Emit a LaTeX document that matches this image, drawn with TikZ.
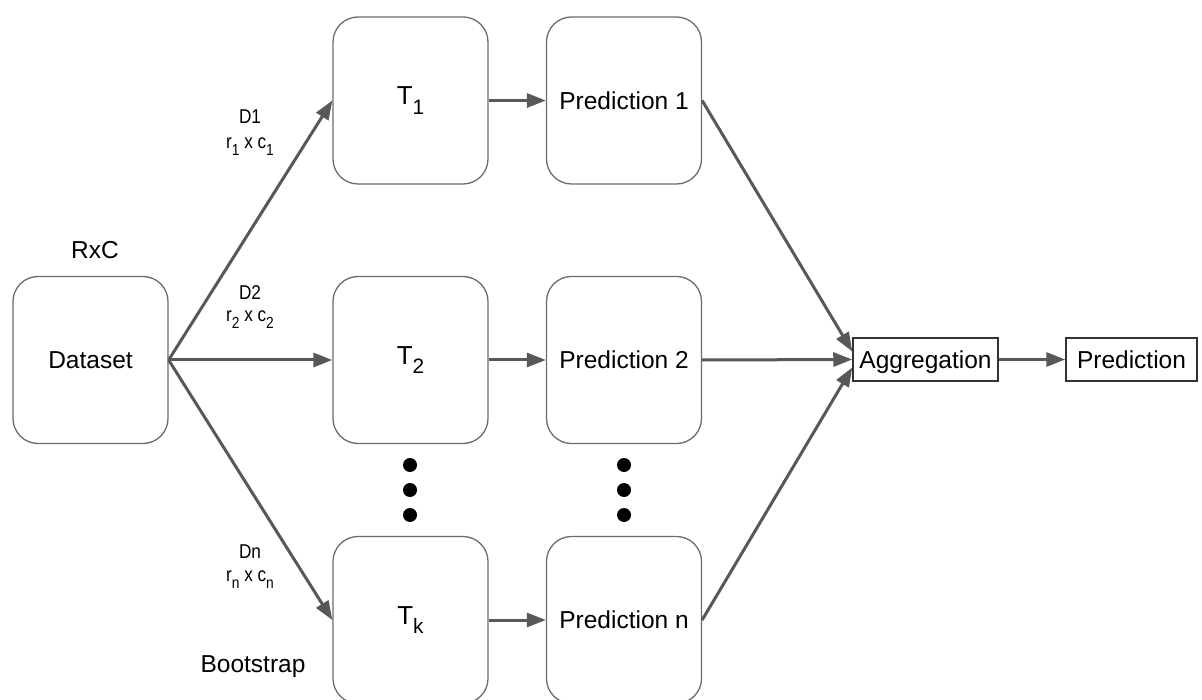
\documentclass[tikz,border=0pt]{standalone}
\usepackage{fontspec}
\setmainfont{Liberation Sans}
\usetikzlibrary{arrows.meta}
\definecolor{boxgray}{HTML}{6B6B6B}
\definecolor{arrgray}{HTML}{585858}
\definecolor{darkbox}{HTML}{333333}
\newcommand{\lsub}[1]{\raisebox{-0.36em}{\scalebox{0.8}{#1}}}
\newcommand{\narrow}[1]{\scalebox{0.86}[1]{#1}}
\begin{document}
\begin{tikzpicture}[x=1pt,y=-1pt,
  rbox/.style={draw=boxgray, line width=1.3pt, rounded corners=25pt,
    minimum width=155pt, minimum height=167pt, inner sep=0pt,
    font=\fontsize{24.5}{29}\selectfont},
  sbox/.style={draw=darkbox, line width=1.5pt, minimum height=43pt,
    inner sep=0pt, text height=17.6pt, text depth=0pt,
    font=\fontsize{24.5}{29}\selectfont},
  arr/.style={draw=arrgray, line width=3pt, -{Triangle[length=19pt,width=14pt]}},
  lbl/.style={font=\fontsize{24.5}{29}\selectfont},
  sml/.style={font=\fontsize{20}{24}\selectfont, align=center},
  tlbl/.style={font=\fontsize{26}{30}\selectfont},
  dot/.style={circle, fill=black, minimum size=14pt, inner sep=0pt}]
\useasboundingbox (0,0) rectangle (1202,700);
\clip (0,0) rectangle (1202,700);
% boxes
\node[rbox] (ds) at (90.5,360) {Dataset};
\node[rbox, tlbl] (t1) at (410.5,100.5) {T\lsub{1}};
\node[rbox, tlbl] (t2) at (410.5,360) {T\lsub{2}};
\node[rbox, tlbl] (tk) at (410.5,620) {T\lsub{k}};
\node[rbox] (p1) at (624,100.5) {Prediction 1};
\node[rbox] (p2) at (624,360) {Prediction 2};
\node[rbox] (pn) at (624,620) {Prediction n};
\node[sbox, minimum width=145pt] (agg) at (925.5,359.5) {Aggregation};
\node[sbox, minimum width=131pt] (fin) at (1131.5,359.5) {Prediction};
% dots
\node[dot] (dl1) at (410,465) {};
\node[dot] (dl2) at (410,490) {};
\node[dot] (dl3) at (410,515) {};
\node[dot] (dr1) at (624,465) {};
\node[dot] (dr2) at (624,490) {};
\node[dot] (dr3) at (624,515) {};
% labels
\node[lbl] (rxc) at (95,250) {RxC};
\node[sml] (d1) at (250,117) {\narrow{D1}};
\node[sml] (s1) at (250,147) {\narrow{r\lsub{1} x c\lsub{1}}};
\node[sml] (d2) at (250,293) {\narrow{D2}};
\node[sml] (s2) at (250,320) {\narrow{r\lsub{2} x c\lsub{2}}};
\node[sml] (dn) at (250,552) {\narrow{Dn}};
\node[sml] (sn) at (250,580) {\narrow{r\lsub{n} x c\lsub{n}}};
\node[lbl] (boot) at (253,667) {Bootstrap};
% arrows
\draw[arr] (ds.east) -- (t1.west);
\draw[arr] (ds.east) -- (t2.west);
\draw[arr] (ds.east) -- (tk.west);
\draw[arr] (t1.east) -- (p1.west);
\draw[arr] (t2.east) -- (p2.west);
\draw[arr] (tk.east) -- (pn.west);
\draw[arr] (p1.east) -- ([yshift=8pt]agg.west);
\draw[arr] (p2.east) -- (agg.west);
\draw[arr] (pn.east) -- ([yshift=-8pt]agg.west);
\draw[arr] (agg.east) -- (fin.west);
\end{tikzpicture}
\end{document}
